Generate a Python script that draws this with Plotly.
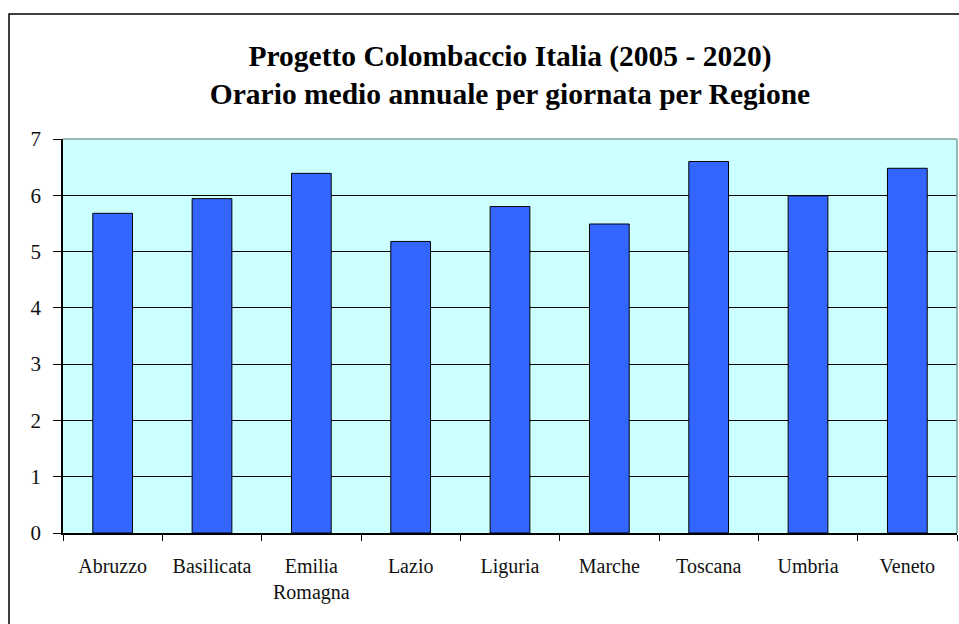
import plotly.graph_objects as go

regions = ["Abruzzo", "Basilicata", "Emilia<br>Romagna", "Lazio", "Liguria",
           "Marche", "Toscana", "Umbria", "Veneto"]
hours = [5.68, 5.94, 6.39, 5.18, 5.80, 5.49, 6.60, 5.99, 6.48]
y_ticks = [0, 1, 2, 3, 4, 5, 6, 7]
title_lines = ["Progetto Colombaccio Italia (2005 - 2020)",
               "Orario medio annuale per giornata per Regione"]

SERIF = "Liberation Serif, Times New Roman, serif"

fig = go.Figure()
fig.add_trace(go.Bar(
    x=regions, y=hours,
    marker=dict(color="#3366FF", line=dict(color="black", width=1)),
    width=0.4,
    hoverinfo="x+y",
))

fig.update_layout(
    width=959, height=624,
    margin=dict(l=63, r=2, t=139, b=91),
    paper_bgcolor="white",
    plot_bgcolor="#CCFFFF",
    showlegend=False,
    title=dict(
        text="<b>" + title_lines[0] + "</b><br><b>" + title_lines[1] + "</b>",
        x=0.5, xanchor="center", xref="paper",
        y=1 - 66 / 624, yanchor="top",
        font=dict(family=SERIF, size=29.5, color="black"),
    ),
    font=dict(family=SERIF, size=20, color="#111111"),
    bargap=0.6,
)

fig.update_xaxes(
    type="category",
    showline=True, linecolor="black", linewidth=1.5,
    ticks="outside", tickson="boundaries", ticklen=6, tickcolor="black",
    showgrid=False,
    ticklabelstandoff=14,
    tickfont=dict(family=SERIF, size=20, color="#111111"),
)
fig.update_yaxes(
    range=[0, 7], tickvals=y_ticks,
    showline=True, linecolor="black", linewidth=1.5,
    ticks="outside", ticklen=8, tickcolor="black",
    showgrid=True, gridcolor="black", gridwidth=1,
    zeroline=False,
    ticklabelstandoff=8,
    tickfont=dict(family=SERIF, size=21, color="#111111"),
)

# grey top/right plot-area border
fig.add_shape(type="line", xref="paper", yref="paper", x0=0, x1=1, y0=1, y1=1,
              line=dict(color="#7F9F9F", width=1.5), layer="above")
fig.add_shape(type="line", xref="paper", yref="paper", x0=1, x1=1, y0=0, y1=1,
              line=dict(color="#7F9F9F", width=1.5), layer="above")
# outer chart border (extends beyond the picture on right and bottom)
fig.add_shape(type="rect", xref="paper", yref="paper",
              x0=-0.0604, x1=1.05, y0=-0.3, y1=1.317,
              line=dict(color="black", width=1.5), fillcolor="rgba(0,0,0,0)",
              layer="below")

fig.write_html("out.html", config={"displayModeBar": False},
               post_script="document.body.style.margin='0';")
